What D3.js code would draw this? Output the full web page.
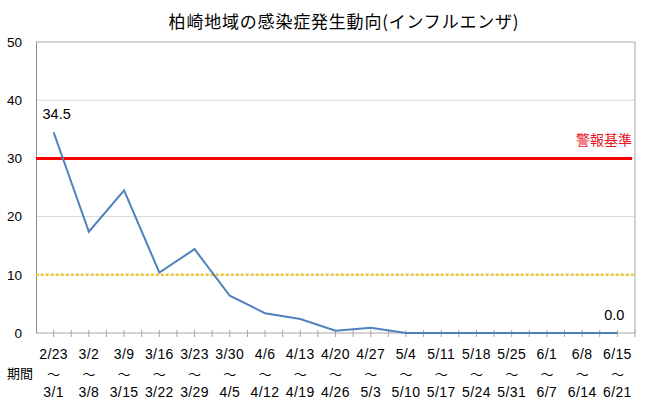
<!DOCTYPE html>
<html>
<head>
<meta charset="utf-8">
<script src="https://cdn.jsdelivr.net/npm/d3@7"></script>
<style>
  body { margin: 0; background: #fff; }
  svg { display: block; }
</style>
</head>
<body>
<div id="chart"></div>
<script>
// weekly periods (start / end) and reported values
var weekStart = ["2/23", "3/2", "3/9", "3/16", "3/23", "3/30", "4/6", "4/13", "4/20",
                 "4/27", "5/4", "5/11", "5/18", "5/25", "6/1", "6/8", "6/15"];
var weekEnd = ["3/1", "3/8", "3/15", "3/22", "3/29", "4/5", "4/12", "4/19", "4/26",
               "5/3", "5/10", "5/17", "5/24", "5/31", "6/7", "6/14", "6/21"];
var values = [34.5, 17.4, 24.5, 10.4, 14.4, 6.4, 3.4, 2.4, 0.4,
              0.9, 0, 0, 0, 0, 0, 0, 0];
var yTicks = [0, 10, 20, 30, 40, 50];
var alarmLevel = 30;   // 警報基準
var noticeLevel = 10;  // dotted line
var labelled = [0, 16]; // points with a value label

var margin = { top: 42, right: 15, bottom: 80, left: 36 };
var W = 650, H = 413;
var width = W - margin.left - margin.right;
var height = H - margin.top - margin.bottom;

var numFont = "'Liberation Sans', Arial, sans-serif";
var jpFont = "'Noto Sans CJK JP', sans-serif";

var svg = d3.select("#chart").append("svg")
    .attr("width", W)
    .attr("height", H);

svg.append("text")
    .attr("x", 344)
    .attr("y", 28)
    .attr("text-anchor", "middle")
    .style("font-family", jpFont)
    .style("font-size", "17px")
    .style("letter-spacing", "0.8px")
    .style("fill", "#000")
    .text("柏崎地域の感染症発生動向(インフルエンザ)");

var g = svg.append("g")
    .attr("transform", "translate(" + margin.left + "," + margin.top + ")");

var x = d3.scaleBand().domain(d3.range(values.length)).range([0, width]);
var y = d3.scaleLinear().domain([0, 50]).range([height, 0]);
var cx = function (i) { return x(i) + x.bandwidth() / 2; };

// grid lines
g.selectAll(".grid")
    .data(yTicks.filter(function (t) { return t > 0 && t < 50; }))
    .enter().append("line")
    .attr("x1", 0).attr("x2", width)
    .attr("y1", function (d) { return y(d); })
    .attr("y2", function (d) { return y(d); })
    .style("stroke", "#d9d9d9")
    .style("stroke-width", 1);

// frame: top and right
g.append("path")
    .attr("d", "M0," + y(50) + "H" + width + "V" + height)
    .style("fill", "none")
    .style("stroke", "#a6a6a6")
    .style("stroke-width", 1);

// y axis
var yAxis = g.append("g")
    .call(d3.axisLeft(y).tickValues(yTicks).tickSize(0).tickPadding(14));
yAxis.select(".domain").style("stroke", "#8c8c8c");
yAxis.selectAll("text")
    .style("font-family", numFont)
    .style("font-size", "13.5px")
    .style("fill", "#000");

// x axis line + ticks at every half band
var tickPos = d3.range(values.length * 2 + 1).map(function (k) { return k * x.bandwidth() / 2; });
g.append("line")
    .attr("x1", 0).attr("x2", width)
    .attr("y1", height).attr("y2", height)
    .style("stroke", "#a6a6a6");
g.selectAll(".xtick")
    .data(tickPos.slice(1))
    .enter().append("line")
    .attr("x1", function (d) { return d; })
    .attr("x2", function (d) { return d; })
    .attr("y1", height - 3)
    .attr("y2", height + 4)
    .style("stroke", "#a6a6a6");

// x labels: start 〜 end
var xl = g.selectAll(".xlab")
    .data(values)
    .enter().append("g")
    .attr("transform", function (d, i) { return "translate(" + cx(i) + "," + height + ")"; });
xl.append("text")
    .attr("y", 26)
    .attr("text-anchor", "middle")
    .style("font-family", numFont)
    .style("font-size", "14px")
    .style("letter-spacing", "0.4px")
    .text(function (d, i) { return weekStart[i]; });
xl.append("text")
    .attr("y", 46)
    .attr("text-anchor", "middle")
    .style("font-family", jpFont)
    .style("font-size", "13px")
    .text("〜");
xl.append("text")
    .attr("y", 64)
    .attr("text-anchor", "middle")
    .style("font-family", numFont)
    .style("font-size", "14px")
    .style("letter-spacing", "0.4px")
    .text(function (d, i) { return weekEnd[i]; });

svg.append("text")
    .attr("x", 20)
    .attr("y", 378)
    .attr("text-anchor", "middle")
    .style("font-family", jpFont)
    .style("font-size", "13px")
    .text("期間");

// dotted yellow level
g.append("line")
    .attr("x1", 0).attr("x2", width)
    .attr("y1", y(noticeLevel)).attr("y2", y(noticeLevel))
    .style("stroke", "#f0c419")
    .style("stroke-width", 2.5)
    .style("stroke-dasharray", "2.5,2.5");

// alarm level (red)
g.append("line")
    .attr("x1", 0).attr("x2", width - 3)
    .attr("y1", y(alarmLevel)).attr("y2", y(alarmLevel))
    .style("stroke", "#ff0000")
    .style("stroke-width", 3);

g.append("text")
    .attr("x", width - 3)
    .attr("y", y(alarmLevel) - 13)
    .attr("text-anchor", "end")
    .style("font-family", jpFont)
    .style("font-size", "14px")
    .style("fill", "#e8141e")
    .text("警報基準");

// series line
var line = d3.line()
    .x(function (d, i) { return cx(i); })
    .y(function (d) { return y(d); });

g.append("path")
    .datum(values)
    .attr("d", line)
    .style("fill", "none")
    .style("stroke", "#4f81bd")
    .style("stroke-width", 2);

// value labels
g.selectAll(".vlab")
    .data(labelled)
    .enter().append("text")
    .attr("x", function (i) { return cx(i) + (i === 0 ? 3 : -3); })
    .attr("y", function (i) { return y(values[i]) - 13; })
    .attr("text-anchor", "middle")
    .style("font-family", numFont)
    .style("font-size", "14.5px")
    .style("fill", "#000")
    .text(function (i) { return values[i].toFixed(1); });
</script>
</body>
</html>
